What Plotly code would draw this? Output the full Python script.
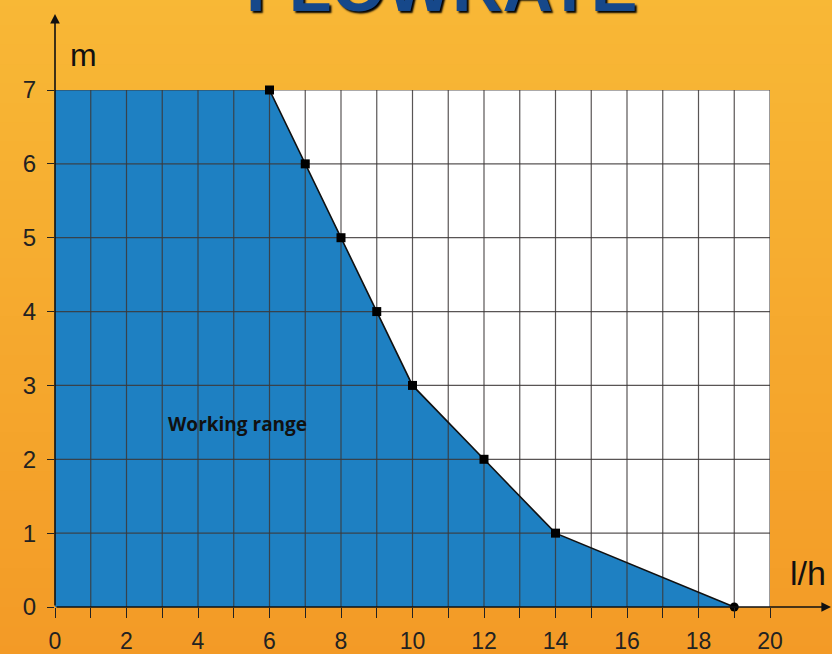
import plotly.graph_objects as go

# ---- data ----
flow_lh = [6, 7, 8, 9, 10, 12, 14, 19]
head_m = [7, 6, 5, 4, 3, 2, 1, 0]
x_ticks = list(range(0, 21))
x_labels = [str(v) if v % 2 == 0 else "" for v in x_ticks]
y_ticks = list(range(0, 8))
y_labels = [str(v) for v in y_ticks]
marker_symbols = ["square"] * 7 + ["circle"]

X_MAX, Y_MAX = 20, 7

fig = go.Figure()

# working range fill
fig.add_trace(go.Scatter(
    x=[0] + flow_lh, y=[head_m[0]] + head_m,
    mode="lines", fill="tozeroy", fillcolor="#1E80C2",
    line=dict(width=0, color="#1E80C2"), hoverinfo="skip", showlegend=False))

# grid lines drawn above the fill
gx, gy = [], []
for v in x_ticks[1:]:
    gx += [v, v, None]; gy += [0, Y_MAX, None]
for v in y_ticks[1:]:
    gx += [0, X_MAX, None]; gy += [v, v, None]
fig.add_trace(go.Scatter(x=gx, y=gy, mode="lines",
                         line=dict(color="rgba(60,55,55,0.85)", width=1.2),
                         hoverinfo="skip", showlegend=False))

# curve
fig.add_trace(go.Scatter(
    x=flow_lh, y=head_m, mode="lines+markers", cliponaxis=False,
    line=dict(color="#111111", width=1.6),
    marker=dict(symbol=marker_symbols, size=9, color="#000000"),
    showlegend=False))

# gradient background
N = 40
top = (248, 184, 54)
bot = (242, 150, 36)
shapes = []
for i in range(N):
    t = i / (N - 1)
    c = tuple(int(round(top[k] + (bot[k] - top[k]) * t)) for k in range(3))
    shapes.append(dict(type="rect", xref="paper", yref="paper",
                       x0=-0.2, x1=1.2, y0=1.2 - (i + 1) * 1.5 / N - 0.01, y1=1.2 - i * 1.5 / N,
                       fillcolor="rgb(%d,%d,%d)" % c, line=dict(width=0), layer="below"))
# white plotting area
shapes.append(dict(type="rect", xref="x", yref="y", x0=0, x1=X_MAX, y0=0, y1=Y_MAX,
                   fillcolor="white", line=dict(width=0), layer="below"))

annotations = [
    dict(text="<b>FLOWRATE</b>", xref="paper", yref="paper", x=0.54, y=1.20,
         showarrow=False,
         font=dict(family="Liberation Sans", size=70, color="#16488A",
                   shadow="2px 2px 2px #000"),
         xanchor="center", yanchor="middle"),
    dict(text="m", xref="paper", yref="paper", x=0.04, y=(607 - 55) / 517,
         showarrow=False, font=dict(family="Liberation Sans", size=32, color="#111"),
         xanchor="center", yanchor="middle"),
    dict(text="l/h", xref="paper", yref="paper", x=(808 - 55) / 715, y=(607 - 573) / 517,
         showarrow=False, font=dict(family="Liberation Sans", size=34, color="#111"),
         xanchor="center", yanchor="middle"),
    dict(text="<b>Working range</b>", x=5.1, y=2.48, xref="x", yref="y",
         showarrow=False, font=dict(family="Open Sans", size=19, color="#111"),
         xanchor="center", yanchor="middle"),
    # y-axis arrow
    dict(x=0, y=(607 - 14) / 517, xref="paper", yref="paper", ax=0, ay=593,
         axref="pixel", ayref="pixel", showarrow=True, arrowhead=2, arrowsize=1.2,
         arrowwidth=1.6, arrowcolor="#111", text=""),
    # x-axis arrow
    dict(x=(834 - 55) / 715, y=0, xref="paper", yref="paper", ax=-779, ay=0,
         axref="pixel", ayref="pixel", showarrow=True, arrowhead=2, arrowsize=1.2,
         arrowwidth=1.6, arrowcolor="#111", text=""),
]

fig.update_layout(
    width=832, height=654,
    margin=dict(l=55, r=62, t=90, b=47, autoexpand=False),
    paper_bgcolor="#F5A830", plot_bgcolor="rgba(0,0,0,0)",
    shapes=shapes, annotations=annotations,
    font=dict(family="Liberation Sans", color="#222"),
)
fig.update_xaxes(range=[0, X_MAX], tickvals=x_ticks, ticktext=x_labels,
                 ticks="outside", ticklen=10, tickwidth=1.3, tickcolor="#222",
                 ticklabelstandoff=3, automargin=False,
                 tickfont=dict(size=23, color="#222"), showgrid=False, zeroline=False,
                 showline=False, fixedrange=True)
fig.update_yaxes(range=[0, Y_MAX], tickvals=y_ticks, ticktext=y_labels,
                 ticks="outside", ticklen=7, tickwidth=1.3, tickcolor="#222",
                 ticklabelstandoff=6, automargin=False,
                 tickfont=dict(size=24, color="#222"), showgrid=False, zeroline=False,
                 showline=False, fixedrange=True)

fig.write_html("out.html", config={"displayModeBar": False},
               post_script="document.body.style.margin='0';document.body.style.overflow='hidden';")
